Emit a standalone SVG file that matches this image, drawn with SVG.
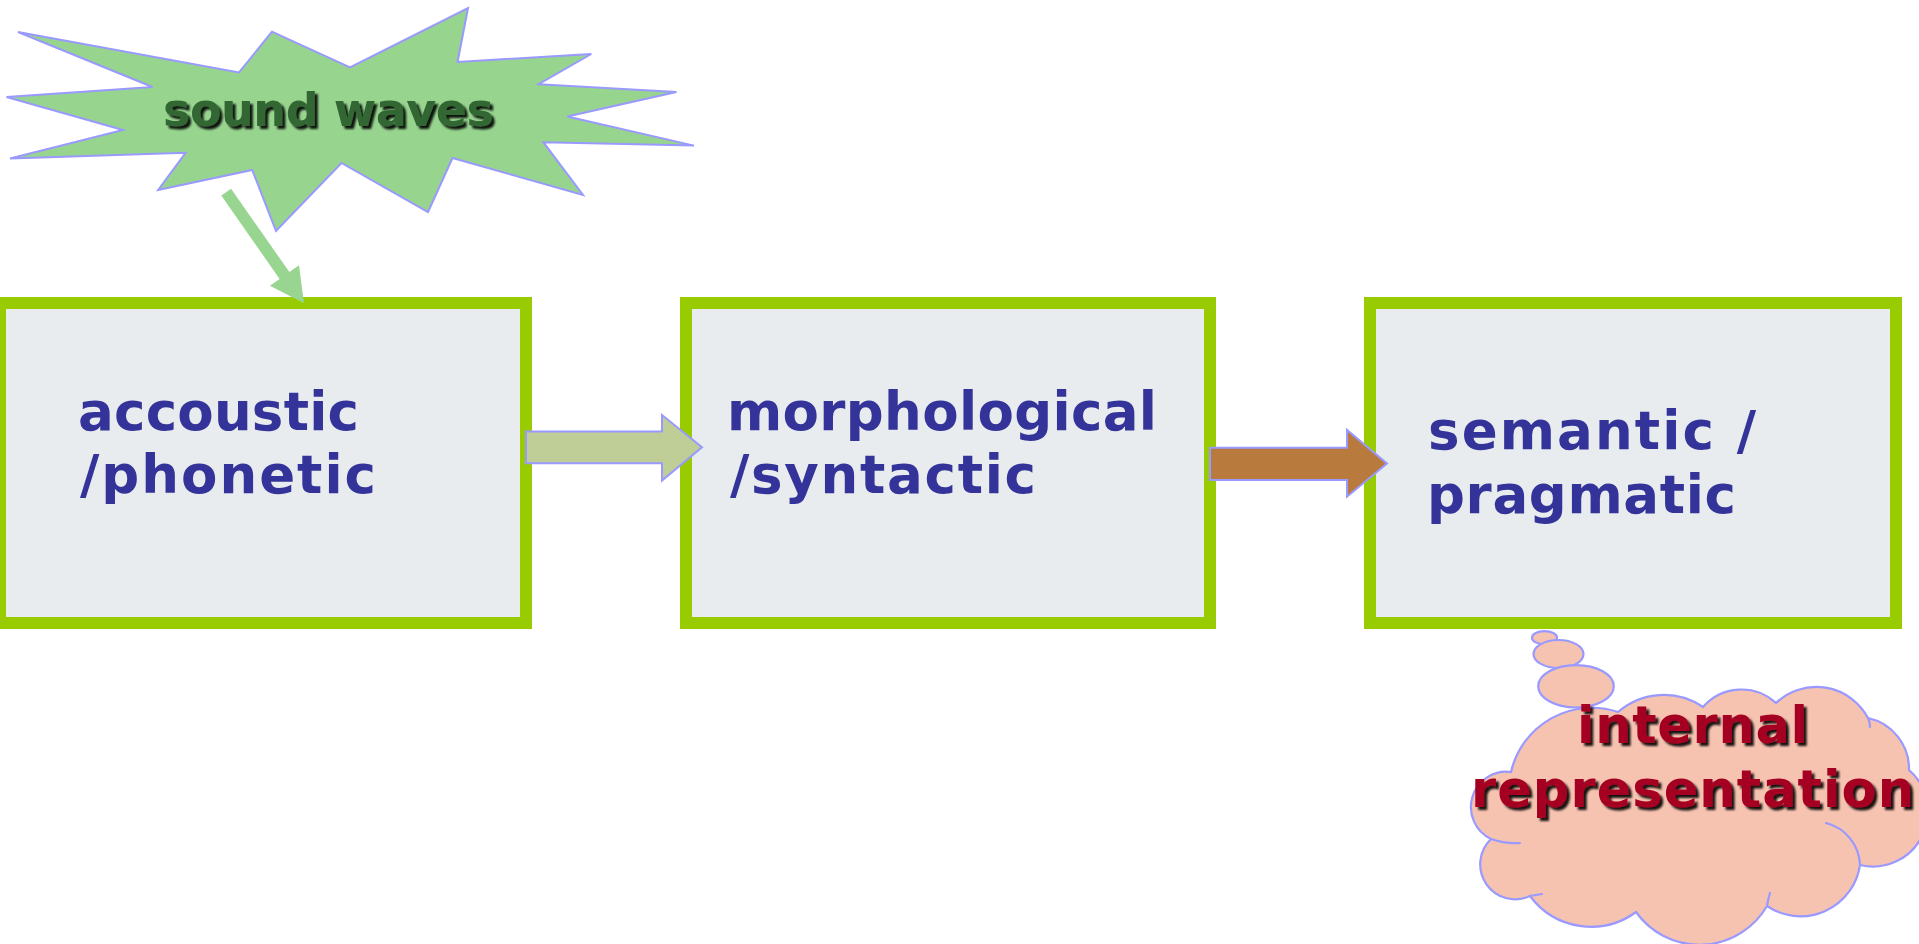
<svg xmlns="http://www.w3.org/2000/svg" width="1919" height="944" viewBox="0 0 1919 944">
  <defs>
    <style>
      .stage { fill: #E8ECEF; stroke: #99CC00; stroke-width: 12; }
      .stage-label { font-family: "DejaVu Sans", "Liberation Sans", sans-serif; font-weight: bold; font-size: 53px; fill: #333399; }
      .callout-label { font-family: "DejaVu Sans", "Liberation Sans", sans-serif; font-weight: bold; filter: url(#shadow); }
      .outline { stroke: #9999FF; stroke-width: 2; }
      .cloud { fill: #F7C3B1; stroke: #9999FF; stroke-width: 2.2; }
      .cloud-seam { fill: none; stroke: #9999FF; stroke-width: 2.2; stroke-linecap: round; }
    </style>
    <filter id="shadow" x="-10%" y="-20%" width="120%" height="150%">
      <feDropShadow dx="3" dy="3" stdDeviation="1.3" flood-color="#000000" flood-opacity="0.9"/>
    </filter>
  </defs>

  <rect width="1919" height="944" fill="#FFFFFF"/>

  <!-- input: explosion shape -->
  <g id="sound-waves">
    <polygon class="outline" fill="#97D58F" points="18,32 239,72.5 272,31.7 350,67.5 468,8 457.6,62 591.3,54 538.6,84.2 676.5,92 567.3,116.5 694,145.6 543.3,142.2 583,195 452.5,158 428,212 341.5,163 276,231 252.2,170 158.2,190 185.6,152.8 10,158.5 123,130 6.5,97 152.5,87"/>
    <text class="callout-label" x="163" y="126" font-size="46" fill="#336633" textLength="331">sound waves</text>
  </g>

  <!-- processing stages -->
  <g id="stage-acoustic">
    <rect class="stage" x="0" y="303" width="526" height="320"/>
    <text class="stage-label" x="78" y="430" textLength="281">accoustic</text>
    <text class="stage-label" x="80" y="493" textLength="296">/phonetic</text>
  </g>

  <g id="stage-morph">
    <rect class="stage" x="686" y="303" width="524" height="320"/>
    <text class="stage-label" x="727" y="430" textLength="430">morphological</text>
    <text class="stage-label" x="730" y="493" textLength="306">/syntactic</text>
  </g>

  <g id="stage-semantic">
    <rect class="stage" x="1370" y="303" width="526" height="320"/>
    <text class="stage-label" x="1428" y="449" textLength="328">semantic /</text>
    <text class="stage-label" x="1427" y="513" textLength="309">pragmatic</text>
  </g>

  <!-- output: thought cloud -->
  <g id="internal-representation">
    <ellipse class="cloud" cx="1544.5" cy="637.7" rx="12.5" ry="6.6"/>
    <ellipse class="cloud" cx="1558.5" cy="654" rx="25" ry="14"/>
    <ellipse class="cloud" cx="1576" cy="686.3" rx="37.8" ry="21.2"/>
    <path class="cloud" d="M1511,772 A83,83 0 0 1 1618,712 A70,70 0 0 1 1703,707 A51,51 0 0 1 1776,703 A58.5,58.5 0 0 1 1868,718 A52,52 0 0 1 1909,770 A55,55 0 0 1 1860,865 A60,60 0 0 1 1767,906 A78,78 0 0 1 1636,912 A76,76 0 0 1 1530,896 A35,35 0 0 1 1491,839 A35.4,35.4 0 0 1 1511,772 Z"/>
    <path class="cloud-seam" d="M1826,823 A45,45 0 0 1 1860,865"/>
    <path class="cloud-seam" d="M1491,839 Q1505,844 1520,843"/>
    <path class="cloud-seam" d="M1530,896 Q1536,895 1542,894"/>
    <path class="cloud-seam" d="M1767,906 Q1768,899 1770,893"/>
    <path class="cloud-seam" d="M1868,718 Q1870,722 1870,727"/>
    <text class="callout-label" x="1577" y="743" font-size="51" fill="#A50021" textLength="231">internal</text>
    <text class="callout-label" x="1471" y="807" font-size="51" fill="#A50021" textLength="443">representation</text>
  </g>

  <!-- connectors -->
  <g id="connectors">
    <polygon fill="#98D590" points="231.1,188.8 289.4,272.1 299,265.3 304,303.3 270,285.7 279.6,278.9 221.3,195.6"/>
    <polygon class="outline" fill="#BFCE96" points="526,431.5 662,431.5 662,415 702,447.3 662,480.5 662,463.3 526,463.3"/>
    <polygon class="outline" fill="#B97B3D" points="1210,447.7 1347,447.7 1347,430 1387,463.5 1347,496.7 1347,480 1210,480"/>
  </g>
</svg>
